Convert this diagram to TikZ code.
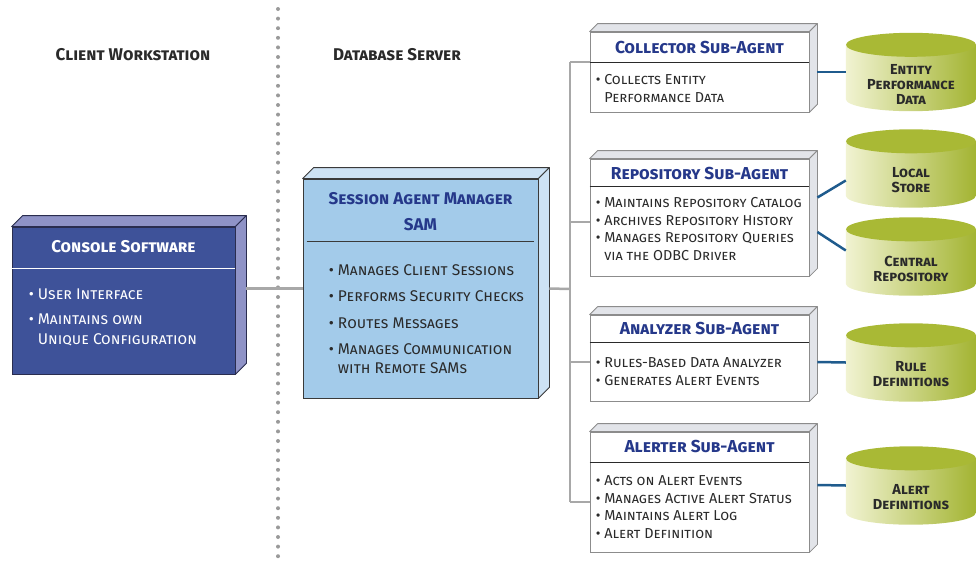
\documentclass[tikz,border=0pt]{standalone}
\usepackage{fontspec}
\setmainfont{Fira Sans}
\usetikzlibrary{backgrounds}

\definecolor{conblue}{HTML}{3E5299}
\definecolor{conside}{HTML}{8F93C7}
\definecolor{condraw}{HTML}{2A2D4F}
\definecolor{samblue}{HTML}{A3CBEA}
\definecolor{samside}{HTML}{CDE2F4}
\definecolor{samdraw}{HTML}{3A3A3A}
\definecolor{subside}{HTML}{E2E4E9}
\definecolor{subdraw}{HTML}{8C8C8C}
\definecolor{titleblue}{HTML}{25388A}
\definecolor{textdark}{HTML}{2A2A2A}
\definecolor{linkgray}{HTML}{A8A8A8}
\definecolor{dbblue}{HTML}{1F5B8D}
\definecolor{storelight}{HTML}{F1F3D2}
\definecolor{storedark}{HTML}{A3B432}
\definecolor{storetop}{HTML}{A9B935}
\definecolor{dotgray}{HTML}{9A9A9A}

\tikzset{
  heading/.style={font=\bfseries\scshape\fontsize{17}{20}\selectfont, text=textdark},
  box/.style={rectangle, inner sep=0pt, line width=0.8pt},
  conbox/.style={box, draw=condraw, fill=conblue, minimum width=223, minimum height=147},
  sambox/.style={box, draw=samdraw, fill=samblue, minimum width=235, minimum height=219},
  subbox/.style={box, draw=subdraw, fill=white, minimum width=219, minimum height=#1},
  title/.style={font=\bfseries\scshape\fontsize{17}{26}\selectfont, inner sep=0pt},
  subtitle/.style={font=\bfseries\scshape\fontsize{17.3}{20}\selectfont, inner sep=0pt, text=titleblue},
  bigitems/.style={font=\scshape\fontsize{15.5}{20}\selectfont, inner sep=0pt, align=left, anchor=north west},
  items/.style={font=\scshape\fontsize{14.4}{17.5}\selectfont, inner sep=0pt, align=left, anchor=north west, text=textdark},
  store/.style={inner sep=0pt, minimum width=130, minimum height=54, align=center,
    font=\bfseries\scshape\fontsize{14.5}{15}\selectfont, text=textdark},
  link/.style={draw=linkgray, line width=2.5pt},
  dblink/.style={draw=dbblue, line width=2.5pt},
  divider/.style={draw=dotgray, line width=4pt, line cap=round, dash pattern=on 0pt off 9.6pt},
}

\begin{document}
\begin{tikzpicture}[x=1pt,y=-1pt]
  \useasboundingbox (0,0) rectangle (977,563);
  \coordinate (divtop) at (278,9);
  \coordinate (divbot) at (278,563);
  \draw[divider] (divtop) -- (divbot);
  \node[heading] (cw) at (133,55) {Client Workstation};
  \node[heading] (ds) at (397,55) {Database Server};

  % client side
  \node[conbox] (con) at (123.5,300.5) {};
  \node[title, text=white] (con-t) at ([shift={(0,20)}]con.north) {Console Software};
  \draw[white, line width=1pt] ([shift={(0,42)}]con.north west) -- ([shift={(0,42)}]con.north east);
  \node[bigitems, text=white] (con-l) at ([shift={(17,62.5)}]con.north west)
    {\textbullet~User Interface\\[5pt]\textbullet~Maintains own\\\phantom{\textbullet~}Unique Configuration};

  % server side
  \node[sambox] (sam) at (420.5,288.5) {};
  \node[title, text=titleblue, align=center] (sam-t) at ([shift={(0,33)}]sam.north) {Session Agent Manager\\SAM};
  \draw[samdraw, line width=1pt] ([shift={(4,63)}]sam.north west) -- ([shift={(-4,63)}]sam.north east);
  \node[bigitems, text=textdark, font=\scshape\fontsize{15.5}{19}\selectfont] (sam-l) at ([shift={(26,85.5)}]sam.north west)
    {\textbullet~Manages Client Sessions\\[7.5pt]\textbullet~Performs Security Checks\\[7.5pt]\textbullet~Routes Messages\\[7.5pt]%
     \textbullet~Manages Communication\\\phantom{\textbullet~}with Remote SAMs};

  \node[subbox=80] (col) at (699.5,72) {};
  \node[subtitle] (col-t) at ([shift={(0,16)}]col.north) {Collector Sub-Agent};
  \draw[textdark, line width=0.8pt] ([shift={(0,31)}]col.north west) -- ([shift={(0,31)}]col.north east);
  \node[items] (col-l) at ([shift={(6,43)}]col.north west)
    {\textbullet~Collects Entity\\\phantom{\textbullet~}Performance Data};

  \node[subbox=117] (rep) at (699.5,217.5) {};
  \node[subtitle] (rep-t) at ([shift={(0,15)}]rep.north) {Repository Sub-Agent};
  \draw[textdark, line width=0.8pt] ([shift={(0,28)}]rep.north west) -- ([shift={(0,28)}]rep.north east);
  \node[items] (rep-l) at ([shift={(6,39)}]rep.north west)
    {\textbullet~Maintains Repository Catalog\\\textbullet~Archives Repository History\\%
     \textbullet~Manages Repository Queries\\\phantom{\textbullet~}via the ODBC Driver};

  \node[subbox=86] (ana) at (699.5,358) {};
  \node[subtitle] (ana-t) at ([shift={(0,14)}]ana.north) {Analyzer Sub-Agent};
  \draw[textdark, line width=0.8pt] ([shift={(0,28)}]ana.north west) -- ([shift={(0,28)}]ana.north east);
  \node[items] (ana-l) at ([shift={(6,43)}]ana.north west)
    {\textbullet~Rules-Based Data Analyzer\\\textbullet~Generates Alert Events};

  \node[subbox=120] (alr) at (699.5,492) {};
  \node[subtitle] (alr-t) at ([shift={(0,15)}]alr.north) {Alerter Sub-Agent};
  \draw[textdark, line width=0.8pt] ([shift={(0,31)}]alr.north west) -- ([shift={(0,31)}]alr.north east);
  \node[items] (alr-l) at ([shift={(6,44)}]alr.north west)
    {\textbullet~Acts on Alert Events\\\textbullet~Manages Active Alert Status\\%
     \textbullet~Maintains Alert Log\\\textbullet~Alert Definition};

  % data stores
  \node[store] (ent) at (911,84) {Entity\\Performance\\Data};
  \node[store] (loc) at (911,180.5) {Local\\Store};
  \node[store] (cen) at (911,268.5) {Central\\Repository};
  \node[store] (rul) at (911,374.5) {Rule\\Definitions};
  \node[store] (alt) at (911,497.5) {Alert\\Definitions};

  % connectors
  \coordinate (trunk) at (570,289);
  \coordinate (b1) at ([shift={(0,-10)}]col.west);
  \coordinate (b2) at ([shift={(0,4.5)}]rep.west);
  \coordinate (b3) at ([shift={(0,4)}]ana.west);
  \coordinate (b4) at ([shift={(0,10)}]alr.west);
  \draw[link] ([xshift=11pt]con.east |- sam.west) -- (sam.west);
  \draw[link] ([xshift=11pt]sam.east) -- (trunk);
  \draw[link] (b1 -| trunk) -- (b4 -| trunk);
  \foreach \b in {b1,b2,b3,b4} \draw[link] (\b -| trunk) -- (\b);

  \draw[dblink] ([xshift=8pt]col.east) -- ([shift={(0,-12)}]ent.west);
  \draw[dblink] ([shift={(8,-20)}]rep.east) -- (loc.west);
  \draw[dblink] ([shift={(8,14.5)}]rep.east) -- ([shift={(0,-18)}]cen.west);
  \draw[dblink] ([shift={(8,4)}]ana.east) -- ([shift={(0,-12)}]rul.west);
  \draw[dblink] ([shift={(8,-7)}]alr.east) -- ([shift={(0,-12)}]alt.west);

  \begin{scope}[on background layer]
    \foreach \n/\d/\c/\e in {con/11/conside/condraw, sam/11/samside/samdraw, col/8/subside/subdraw,
        rep/8/subside/subdraw, ana/8/subside/subdraw, alr/8/subside/subdraw} {
      \filldraw[fill=\c, draw=\e, line width=0.8pt, line join=round] (\n.north west) -- ++(\d,-\d)
        -- ([shift={(\d,-\d)}]\n.north east) -- (\n.north east) -- cycle;
      \filldraw[fill=\c, draw=\e, line width=0.8pt, line join=round] (\n.north east) -- ++(\d,-\d)
        -- ([shift={(\d,-\d)}]\n.south east) -- (\n.south east) -- cycle;
    }
    \foreach \s in {ent,loc,cen,rul,alt} {
      \shade[left color=storelight, right color=storedark] ([shift={(0,-12)}]\s.north west)
        -- ([shift={(0,-12)}]\s.south west) arc[start angle=180, end angle=360, x radius=65pt, y radius=12pt]
        -- ([shift={(0,-12)}]\s.north east) -- cycle;
      \fill[storetop] ([shift={(0,-12)}]\s.north) ellipse[x radius=65pt, y radius=12pt];
    }
  \end{scope}
\end{tikzpicture}
\end{document}
